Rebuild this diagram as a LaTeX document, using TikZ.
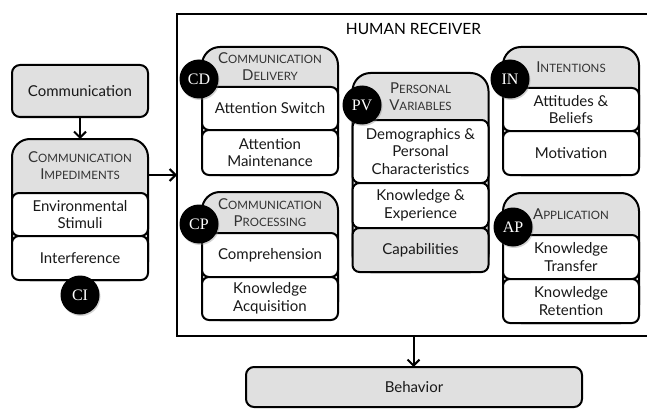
\documentclass[tikz,border=0pt]{standalone}
\usepackage{fontspec}
\setmainfont{Lato}
\newfontfamily\tagfont{Liberation Serif}
\usetikzlibrary{positioning,arrows.meta,shadows}
\definecolor{boxgray}{HTML}{E0E0E0}
\definecolor{inkgray}{HTML}{333333}
\newcommand\smc[2]{#1{\fontsize{11.5}{17}\selectfont#2}}

\begin{document}
\begin{tikzpicture}[x=1pt,y=-1pt,line width=2pt,
  txt/.style={font=\fontsize{15}{17.5}\selectfont,text=black!90,align=center},
  box/.style={txt,draw,fill=boxgray,rounded corners=8pt,inner sep=0pt,outer sep=0pt},
  group/.style={draw,fill=boxgray,rounded corners=18pt,minimum width=136pt,inner sep=0pt,outer sep=0pt,anchor=north},
  item/.style={txt,draw,fill=white,rounded corners=7pt,minimum width=136pt,inner sep=0pt,outer sep=0pt},
  head/.style={font=\fontsize{15}{17}\selectfont,text=inkgray,align=center},
  tag/.style={circle,fill=black,text=white,minimum size=39pt,inner sep=0pt,font=\tagfont\fontsize{16}{16}\selectfont,
    drop shadow={shadow xshift=1pt,shadow yshift=-1.5pt,opacity=.35}},
  arr/.style={-{Straight Barb[length=6pt,width=12pt]}}]
  \useasboundingbox (0,0) rectangle (647,409);

  \node[draw,minimum width=473pt,minimum height=322pt,inner sep=0pt,outer sep=0pt,anchor=north west] (hr) at (177,14) {};
  \node[font=\fontsize{15.5}{17}\selectfont] (title) at ([yshift=-15pt]hr.north) {HUMAN RECEIVER};

  \node[box,minimum width=136pt,minimum height=52pt] (comm) at (80,91) {Communication};
  \node[box,minimum width=336pt,minimum height=40pt] (beh) at (414,387) {Behavior};

  \node[group,minimum height=141pt] (ci) at (80,139) {};
  \node[item,minimum height=43pt,below=54pt of ci.north] (ci1) {Environmental\\Stimuli};
  \node[item,minimum height=44pt,below=0pt of ci1] (ci2) {Interference};
  \node[head] (cih) at ([yshift=-27pt]ci.north) {\smc{C}{OMMUNICATION}\\\smc{I}{MPEDIMENTS}};
  \node[tag] (citag) at (80,295) {CI};

  \node[group,minimum height=128pt] (cd) at (270,47) {};
  \node[item,minimum height=43pt,below=40pt of cd.north] (cd1) {Attention Switch};
  \node[item,minimum height=45pt,below=0pt of cd1] (cd2) {Attention\\Maintenance};
  \node[head] (cdh) at ([yshift=-20pt]cd.north) {\smc{C}{OMMUNICATION}\\\smc{D}{ELIVERY}};
  \node[tag] (cdtag) at (199,79) {CD};

  \node[group,minimum height=128pt] (cp) at (270,192) {};
  \node[item,minimum height=44pt,below=41pt of cp.north] (cp1) {Comprehension};
  \node[item,minimum height=43pt,below=0pt of cp1] (cp2) {Knowledge\\Acquisition};
  \node[head] (cph) at ([yshift=-20.5pt]cp.north) {\smc{C}{OMMUNICATION}\\\smc{P}{ROCESSING}};
  \node[tag] (cptag) at (199,224) {CP};

  \node[group,minimum height=199pt] (pv) at (420.5,73) {};
  \node[item,minimum height=63pt,below=47pt of pv.north] (pv1) {Demographics \&\\Personal\\Characteristics};
  \node[item,minimum height=45pt,below=0pt of pv1] (pv2) {Knowledge \&\\Experience};
  \node[item,fill=boxgray,minimum height=44pt,below=0pt of pv2] (pv3) {Capabilities};
  \node[head] (pvh) at ([yshift=-23.5pt]pv.north) {\smc{P}{ERSONAL}\\\smc{V}{ARIABLES}};
  \node[tag] (pvtag) at (362,105) {PV};

  \node[group,minimum height=128pt] (in) at (571,47) {};
  \node[item,minimum height=43pt,below=41pt of in.north] (in1) {Attitudes \&\\Beliefs};
  \node[item,minimum height=44pt,below=0pt of in1] (in2) {Motivation};
  \node[head] (inh) at ([yshift=-20.5pt]in.north) {\smc{I}{NTENTIONS}};
  \node[tag] (intag) at (510,79) {IN};

  \node[group,minimum height=130pt] (ap) at (571,193) {};
  \node[item,minimum height=44pt,below=42pt of ap.north] (ap1) {Knowledge\\Transfer};
  \node[item,minimum height=44pt,below=0pt of ap1] (ap2) {Knowledge\\Retention};
  \node[head] (aph) at ([yshift=-21pt]ap.north) {\smc{A}{PPLICATION}};
  \node[tag] (aptag) at (513,227) {AP};

  \coordinate (ciout) at ([yshift=-36pt]ci.north east);
  \draw[arr] (comm) -- (ci);
  \draw[arr] (ciout) -- (ciout -| hr.west);
  \draw[arr] (hr.south) -- (hr.south |- beh.north);
\end{tikzpicture}
\end{document}
